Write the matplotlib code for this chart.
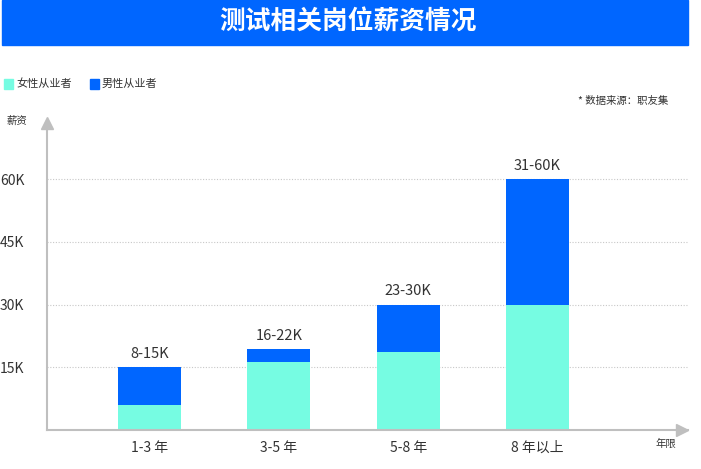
import matplotlib.pyplot as plt
from matplotlib.patches import Rectangle

plt.rcParams['font.family'] = ['Noto Sans CJK SC', 'DejaVu Sans']

# 数据
categories = ['1-3 年', '3-5 年', '5-8 年', '8 年以上']
female = [6, 16.3, 18.7, 30]
total = [15, 19.4, 30, 60]
range_labels = ['8-15K', '16-22K', '23-30K', '31-60K']
yticks = [15, 30, 45, 60]
ytick_labels = ['15K', '30K', '45K', '60K']

male = [t - f for t, f in zip(total, female)]

c_female = '#76FCE2'
c_male = '#0066FF'
c_axis = '#BFBFBF'
c_text = '#333333'

W, H = 701, 469
fig = plt.figure(figsize=(W / 100, H / 100), dpi=100)

# 标题横幅
fig.patches.append(Rectangle((2 / W, 1 - 45 / H), 686 / W, 45 / H,
                             transform=fig.transFigure, color=c_male, zorder=0))
fig.text(348 / W, 1 - 22 / H, '测试相关岗位薪资情况', color='white',
         fontsize=18.5, fontweight='bold', ha='center', va='center')

# 图例
fig.patches.append(Rectangle((4 / W, 1 - 89 / H), 9 / W, 10 / H,
                             transform=fig.transFigure, color=c_female))
fig.text(16 / W, 1 - 84 / H, '女性从业者', fontsize=8, color=c_text, va='center')
fig.patches.append(Rectangle((90 / W, 1 - 89 / H), 9 / W, 10 / H,
                             transform=fig.transFigure, color=c_male))
fig.text(102 / W, 1 - 84 / H, '男性从业者', fontsize=8, color=c_text, va='center')
fig.text(668 / W, 1 - 101 / H, '* 数据来源：职友集', fontsize=7.5, color=c_text,
         ha='right', va='center')

# 坐标轴
ax = fig.add_axes([46.7 / W, (H - 430) / H, (688 - 46.7) / W, (430 - 123) / H])
x = list(range(len(categories)))
ax.bar(x, female, width=0.487, color=c_female, zorder=3)
ax.bar(x, male, bottom=female, width=0.487, color=c_male, zorder=3)

for xi, t, lab in zip(x, total, range_labels):
    ax.text(xi, t + 1.5, lab, ha='center', va='bottom', fontsize=10.5, color=c_text)

ax.set_xlim(-0.795, 4.164)
ax.set_ylim(0, 73.4)
ax.set_yticks(yticks)
ax.set_yticklabels(ytick_labels, fontsize=10, color=c_text)
ax.set_xticks(x)
ax.set_xticklabels(categories, fontsize=10, color=c_text)
ax.tick_params(length=0, pad=8)
ax.tick_params(axis='y', pad=16)
ax.grid(axis='y', linestyle=(0, (1, 1.5)), color='#C8C8C8', linewidth=0.8, zorder=0)

for s in ['top', 'right']:
    ax.spines[s].set_visible(False)
for s in ['left', 'bottom']:
    ax.spines[s].set_color(c_axis)
    ax.spines[s].set_linewidth(1.5)
    ax.spines[s].set_zorder(4)

ax.plot([0], [1], marker='^', markersize=8, color=c_axis, transform=ax.transAxes, clip_on=False)
ax.plot([0.99], [0], marker='>', markersize=8, color=c_axis, transform=ax.transAxes, clip_on=False)

fig.text(7 / W, 1 - 121 / H, '薪资', fontsize=7.5, color=c_text, va='center')
fig.text(655 / W, 1 - 444 / H, '年限', fontsize=7.5, color=c_text, va='center')

fig.savefig('out.png', dpi=100)
